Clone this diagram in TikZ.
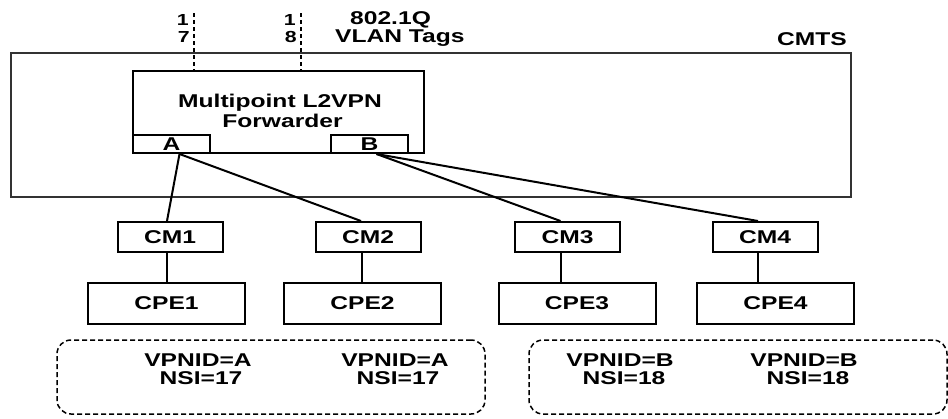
\documentclass[tikz,border=0pt]{standalone}
\usepackage{fontspec}
\setmainfont[FakeStretch=1.33]{Liberation Sans}
\usepackage{tikz}
\usetikzlibrary{calc}

\tikzset{
	box/.style={draw=black,line width=2pt,inner sep=0pt,font=\fontsize{18.5}{22}\selectfont\bfseries},
	lbl/.style={inner sep=0pt,font=\fontsize{18.5}{16}\selectfont\bfseries},
	digit/.style={inner sep=0pt,font=\fontsize{16}{16}\selectfont\bfseries},
	conn/.style={line width=2pt},
	tagline/.style={line width=1.5pt,dash pattern=on 4pt off 3pt},
	grp/.style={draw=black,line width=1.5pt,dash pattern=on 5pt off 3pt,rounded corners=14pt,minimum height=74pt}
}

\begin{document}
\begin{tikzpicture}[x=1pt,y=-1pt]
	\useasboundingbox (0,0) rectangle (948,418);
	% CMTS
	\node[draw=black!80,line width=1.3pt,minimum width=840pt,minimum height=144pt] (cmts) at (431,125) {};
	\node[lbl,anchor=base east] (cmtsl) at (847,45) {CMTS};
	% forwarder
	\node[box,minimum width=291pt,minimum height=82pt] (fwd) at (278.5,112) {};
	\node[lbl,anchor=base] (fwdl1) at (280,107) {Multipoint L2VPN};
	\node[lbl,anchor=base] (fwdl2) at (282.5,127) {Forwarder};
	\node[box,minimum width=77pt,minimum height=18pt] (porta) at (171.5,144) {A};
	\node[box,minimum width=77pt,minimum height=18pt] (portb) at (369.5,144) {B};
	% VLAN tags
	\coordinate (t17) at (194,13);
	\coordinate (t18) at (301,13);
	\draw[tagline] (t17) -- (t17 |- fwd.north);
	\draw[tagline] (t18) -- (t18 |- fwd.north);
	\node[digit,anchor=base east] (d1a) at (189,25) {1};
	\node[digit,anchor=base east] (d7) at (190,42) {7};
	\node[digit,anchor=base east] (d1b) at (296,25) {1};
	\node[digit,anchor=base east] (d8) at (297,42) {8};
	\node[lbl,anchor=base west] (q1) at (350,24) {802.1Q};
	\node[lbl,anchor=base west] (q2) at (335,42) {VLAN Tags};
	% modems and CPEs
	\node[box,minimum width=105pt,minimum height=30pt] (cm1) at (170,237) {CM1};
	\node[box,minimum width=105pt,minimum height=30pt] (cm2) at (368,237) {CM2};
	\node[box,minimum width=105pt,minimum height=30pt] (cm3) at (567.5,237) {CM3};
	\node[box,minimum width=105pt,minimum height=30pt] (cm4) at (765,237) {CM4};
	\node[box,minimum width=157pt,minimum height=41pt] (cpe1) at (166.5,303.5) {CPE1};
	\node[box,minimum width=157pt,minimum height=41pt] (cpe2) at (362.5,303.5) {CPE2};
	\node[box,minimum width=157pt,minimum height=41pt] (cpe3) at (577,303.5) {CPE3};
	\node[box,minimum width=157pt,minimum height=41pt] (cpe4) at (775.5,303.5) {CPE4};
	\draw[conn] ([xshift=8pt]porta.south) -- ([xshift=-3pt]cm1.north);
	\draw[conn] ([xshift=8pt]porta.south) -- ([xshift=-7pt]cm2.north);
	\draw[conn] ([xshift=7pt]portb.south) -- ([xshift=-7pt]cm3.north);
	\draw[conn] ([xshift=7pt]portb.south) -- ([xshift=-7pt]cm4.north);
	\draw[conn] ([xshift=-3pt]cm1.south) -- ([xshift=-3pt]cm1.south |- cpe1.north);
	\draw[conn] ([xshift=-6pt]cm2.south) -- ([xshift=-6pt]cm2.south |- cpe2.north);
	\draw[conn] ([xshift=-7pt]cm3.south) -- ([xshift=-7pt]cm3.south |- cpe3.north);
	\draw[conn] ([xshift=-7pt]cm4.south) -- ([xshift=-7pt]cm4.south |- cpe4.north);
	% VPN groups
	\node[grp,minimum width=428pt] (grpa) at (271,377) {};
	\node[grp,minimum width=418pt] (grpb) at (738,377) {};
	\node[lbl,anchor=base] (vpa1) at (198,366) {VPNID=A};
	\node[lbl,anchor=base] (nsa1) at (201,384) {NSI=17};
	\node[lbl,anchor=base] (vpa2) at (395,366) {VPNID=A};
	\node[lbl,anchor=base] (nsa2) at (398,384) {NSI=17};
	\node[lbl,anchor=base] (vpb1) at (620,366) {VPNID=B};
	\node[lbl,anchor=base] (nsb1) at (624,384) {NSI=18};
	\node[lbl,anchor=base] (vpb2) at (804,366) {VPNID=B};
	\node[lbl,anchor=base] (nsb2) at (808,384) {NSI=18};
\end{tikzpicture}
\end{document}
